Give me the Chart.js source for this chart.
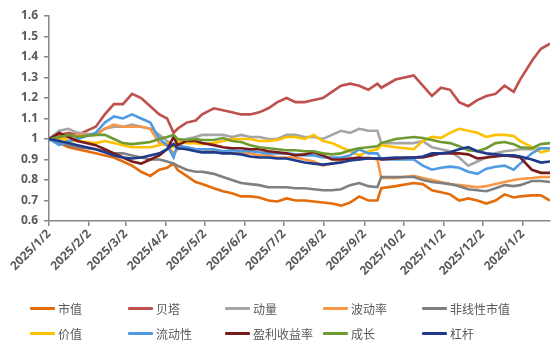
<!DOCTYPE html>
<html>
<head>
<meta charset="utf-8">
<script src="https://cdn.jsdelivr.net/npm/chart.js@4.4.1/dist/chart.umd.min.js"></script>
<style>
    html, body { margin: 0; padding: 0; background: #fff; }
    #wrap { position: relative; width: 558px; height: 348px; }
    #box { position: absolute; left: 0; top: 0; width: 558px; height: 290px; }
    #legend { position: absolute; left: 0; top: 0; width: 558px; height: 348px; pointer-events: none; }
    .item { position: absolute; height: 16px; display: flex; align-items: center;
        font: 12px 'Noto Sans CJK SC', sans-serif; color: #595959; white-space: nowrap; }
    .item i { display: inline-block; width: 25px; height: 3px; margin-right: 3px; border-radius: 1px; }
</style>
</head>
<body>
<div id="wrap">
    <div id="box"><canvas id="canva"></canvas></div>
    <div id="legend"></div>
</div>
<script>
// sample dates (roughly weekly)
const dates = ['2025/1/2', '2025/1/10', '2025/1/17', '2025/1/24', '2025/2/7', '2025/2/14', '2025/2/21', '2025/2/28',
    '2025/3/7', '2025/3/14', '2025/3/21', '2025/3/28', '2025/4/3', '2025/4/8', '2025/4/11', '2025/4/18', '2025/4/25',
    '2025/4/30', '2025/5/9', '2025/5/16', '2025/5/23', '2025/5/30', '2025/6/6', '2025/6/13', '2025/6/20', '2025/6/27',
    '2025/7/4', '2025/7/11', '2025/7/18', '2025/7/25', '2025/8/1', '2025/8/8', '2025/8/15', '2025/8/22', '2025/8/29',
    '2025/9/5', '2025/9/12', '2025/9/15', '2025/9/26', '2025/10/10', '2025/10/17', '2025/10/24', '2025/10/31',
    '2025/11/7', '2025/11/14', '2025/11/21', '2025/11/28', '2025/12/5', '2025/12/12', '2025/12/19', '2025/12/26',
    '2025/12/31', '2026/1/9', '2026/1/16', '2026/1/23'];

const tickLabels = ['2025/1/2', '2025/2/2', '2025/3/2', '2025/4/2', '2025/5/2', '2025/6/2', '2025/7/2',
    '2025/8/2', '2025/9/2', '2025/10/2', '2025/11/2', '2025/12/2', '2026/1/2'];

const shizhi = [1.00, 0.98, 0.96, 0.95, 0.93, 0.92, 0.91, 0.89, 0.87, 0.84, 0.82, 0.85, 0.86, 0.88, 0.85, 0.82, 0.79,
    0.78, 0.76, 0.745, 0.735, 0.72, 0.72, 0.715, 0.70, 0.695, 0.71, 0.70, 0.70, 0.695, 0.69, 0.685, 0.675, 0.69, 0.72,
    0.70, 0.70, 0.76, 0.77, 0.785, 0.78, 0.75, 0.74, 0.73, 0.70, 0.71, 0.70, 0.685, 0.70, 0.73, 0.715, 0.72, 0.725,
    0.725, 0.70];
const beita = [1.00, 1.02, 1.03, 1.02, 1.06, 1.12, 1.17, 1.17, 1.22, 1.20, 1.16, 1.12, 1.10, 1.03, 1.05, 1.08, 1.09,
    1.12, 1.15, 1.14, 1.13, 1.12, 1.12, 1.13, 1.15, 1.18, 1.20, 1.18, 1.18, 1.19, 1.20, 1.23, 1.26, 1.27, 1.26, 1.24,
    1.27, 1.25, 1.29, 1.31, 1.26, 1.21, 1.25, 1.24, 1.18, 1.16, 1.19, 1.21, 1.22, 1.26, 1.23, 1.29, 1.38, 1.44, 1.465];
const dongliang = [1.00, 1.04, 1.05, 1.03, 1.02, 1.05, 1.06, 1.06, 1.07, 1.06, 1.05, 1.02, 0.99, 0.97, 0.98, 1.00,
    1.01, 1.02, 1.02, 1.02, 1.01, 1.02, 1.01, 1.01, 1.00, 1.00, 1.02, 1.02, 1.01, 1.01, 1.00, 1.02, 1.04, 1.03, 1.05,
    1.04, 1.04, 0.98, 0.98, 0.98, 0.99, 0.96, 0.95, 0.94, 0.91, 0.87, 0.89, 0.91, 0.93, 0.94, 0.945, 0.95, 0.95,
    0.955, 0.955];
const bodonglv = [1.00, 1.00, 1.01, 1.02, 1.02, 1.05, 1.07, 1.06, 1.06, 1.06, 1.05, 0.98, 0.97, 0.93, 0.95, 0.96,
    0.95, 0.95, 0.94, 0.94, 0.93, 0.93, 0.93, 0.92, 0.92, 0.91, 0.91, 0.91, 0.90, 0.89, 0.87, 0.88, 0.89, 0.90, 0.90,
    0.91, 0.90, 0.81, 0.81, 0.82, 0.81, 0.80, 0.79, 0.78, 0.775, 0.77, 0.765, 0.77, 0.78, 0.79, 0.80, 0.805, 0.81,
    0.815, 0.815];
const feixianxing = [1.00, 0.98, 0.97, 0.96, 0.95, 0.94, 0.93, 0.93, 0.92, 0.91, 0.90, 0.90, 0.89, 0.88, 0.87, 0.85,
    0.84, 0.84, 0.83, 0.815, 0.80, 0.785, 0.78, 0.775, 0.765, 0.765, 0.765, 0.76, 0.76, 0.755, 0.75, 0.75, 0.755,
    0.775, 0.785, 0.77, 0.765, 0.815, 0.815, 0.815, 0.80, 0.79, 0.785, 0.78, 0.77, 0.755, 0.75, 0.745, 0.76, 0.775,
    0.77, 0.775, 0.795, 0.795, 0.79];
const jiazhi = [1.00, 1.01, 0.99, 0.99, 0.98, 0.99, 0.98, 0.97, 0.96, 0.96, 0.96, 0.97, 0.98, 0.96, 0.99, 0.98, 0.98,
    0.975, 0.98, 0.99, 1.00, 1.00, 1.00, 0.99, 0.99, 0.995, 1.01, 1.01, 1.00, 1.02, 0.99, 0.98, 0.96, 0.94, 0.92, 0.94,
    0.95, 0.97, 0.96, 0.95, 0.99, 1.01, 1.005, 1.03, 1.05, 1.04, 1.03, 1.01, 1.02, 1.02, 1.015, 0.99, 0.96, 0.935,
    0.945];
const liudongxing = [1.00, 0.97, 0.99, 1.00, 1.03, 1.08, 1.11, 1.10, 1.12, 1.10, 1.08, 1.00, 0.97, 0.91, 0.97, 0.96,
    0.95, 0.95, 0.95, 0.94, 0.945, 0.94, 0.94, 0.935, 0.93, 0.93, 0.93, 0.925, 0.92, 0.92, 0.91, 0.91, 0.91, 0.92,
    0.95, 0.93, 0.93, 0.90, 0.90, 0.90, 0.87, 0.85, 0.86, 0.865, 0.86, 0.84, 0.83, 0.855, 0.865, 0.87, 0.85, 0.88,
    0.93, 0.955, 0.955];
const yingli = [1.00, 1.03, 1.01, 0.99, 0.97, 0.95, 0.93, 0.91, 0.89, 0.88, 0.90, 0.92, 0.95, 1.01, 0.97, 0.99, 0.99,
    0.98, 0.97, 0.96, 0.955, 0.955, 0.95, 0.95, 0.94, 0.935, 0.93, 0.92, 0.925, 0.935, 0.92, 0.90, 0.90, 0.905, 0.91,
    0.905, 0.905, 0.90, 0.905, 0.91, 0.91, 0.92, 0.93, 0.93, 0.93, 0.925, 0.905, 0.91, 0.915, 0.92, 0.915, 0.91, 0.85,
    0.835, 0.835];
const chengzhang = [1.00, 1.01, 1.02, 1.01, 1.02, 1.02, 1.00, 0.98, 0.975, 0.98, 0.985, 1.00, 1.01, 1.02, 1.00, 0.995,
    1.00, 0.995, 0.995, 1.005, 0.99, 0.985, 0.97, 0.96, 0.955, 0.95, 0.945, 0.945, 0.94, 0.94, 0.93, 0.925, 0.93,
    0.945, 0.955, 0.96, 0.965, 0.98, 1.00, 1.01, 1.005, 0.995, 0.985, 0.98, 0.965, 0.945, 0.94, 0.955, 0.98, 0.985,
    0.975, 0.96, 0.955, 0.975, 0.98];
const ganggan = [1.00, 0.99, 0.98, 0.97, 0.95, 0.935, 0.92, 0.91, 0.905, 0.91, 0.92, 0.93, 0.95, 0.975, 0.955, 0.95,
    0.94, 0.935, 0.935, 0.93, 0.93, 0.925, 0.915, 0.91, 0.91, 0.905, 0.905, 0.895, 0.885, 0.88, 0.875, 0.88, 0.885,
    0.895, 0.90, 0.905, 0.905, 0.905, 0.91, 0.91, 0.915, 0.93, 0.93, 0.935, 0.95, 0.96, 0.94, 0.93, 0.925, 0.92, 0.92,
    0.915, 0.90, 0.885, 0.89];

const names = ['市值', '贝塔', '动量', '波动率', '非线性市值', '价值', '流动性', '盈利收益率', '成长', '杠杆'];
const series = [shizhi, beita, dongliang, bodonglv, feixianxing, jiazhi, liudongxing, yingli, chengzhang, ganggan];
const colors = ['#E46C0A', '#C0504D', '#A5A5A5', '#F79646', '#7F7F7F', '#FFC000', '#4F9BE3', '#7B1A1A', '#6F9A31', '#1F3A8A'];

// days since 2025/1/2
const dayOf = (s) => {
    const p = s.split('/').map(Number);
    return (Date.UTC(p[0], p[1] - 1, p[2]) - Date.UTC(2025, 0, 2)) / 86400000;
};
const xs = dates.map(dayOf);
const tickDays = tickLabels.map(dayOf);

const axisColor = '#868686';
const tickFont = { family: "'Noto Sans', sans-serif", size: 12, weight: 'bold' };

new Chart(document.getElementById('canva').getContext('2d'), {
    type: 'line',
    data: {
        datasets: series.map((vals, i) => ({
            label: names[i],
            data: vals.map((v, j) => ({ x: xs[j], y: v })),
            borderColor: colors[i],
            backgroundColor: colors[i],
            borderWidth: 2.6,
            pointRadius: 0,
            tension: 0,
            order: -i,
        })),
    },
    options: {
        animation: false,
        responsive: true,
        maintainAspectRatio: false,
        layout: { padding: { top: 16, right: 8, left: 0, bottom: 0 } },
        scales: {
            x: {
                type: 'linear',
                min: 0,
                max: 386,
                afterBuildTicks: (scale) => {
                    scale.ticks = tickDays.map((d) => ({ value: d }));
                },
                afterFit: (scale) => { scale.height = 69; },
                ticks: {
                    autoSkip: false,
                    maxRotation: 45,
                    minRotation: 45,
                    padding: 1,
                    color: '#595959',
                    font: tickFont,
                    callback: (v) => {
                        const k = tickDays.indexOf(v);
                        return k >= 0 ? tickLabels[k] : '';
                    },
                },
                grid: { drawOnChartArea: false, drawTicks: true, tickLength: 5, color: axisColor, lineWidth: 1.5 },
                border: { display: true, color: axisColor, width: 1.5 },
            },
            y: {
                min: 0.6,
                max: 1.6,
                afterFit: (scale) => { scale.width = 49; },
                ticks: {
                    stepSize: 0.1,
                    padding: 6,
                    color: '#595959',
                    font: tickFont,
                    callback: (v) => (Math.abs(v - 1) < 1e-9 ? '1' : v.toFixed(1)),
                },
                grid: { drawOnChartArea: false, drawTicks: true, tickLength: 5, color: axisColor, lineWidth: 1.5 },
                border: { display: true, color: axisColor, width: 1.5 },
            },
        },
        plugins: {
            legend: { display: false },
            tooltip: { enabled: false },
        },
    },
});

// legend, two rows of five
const legend = document.getElementById('legend');
const colX = [30, 128, 225, 323, 422];
const rowY = [300, 325];
names.forEach((n, i) => {
    const el = document.createElement('div');
    el.className = 'item';
    el.style.left = colX[i % 5] + 'px';
    el.style.top = rowY[Math.floor(i / 5)] + 'px';
    el.innerHTML = '<i style="background:' + colors[i] + '"></i>' + n;
    legend.appendChild(el);
});
</script>
</body>
</html>
